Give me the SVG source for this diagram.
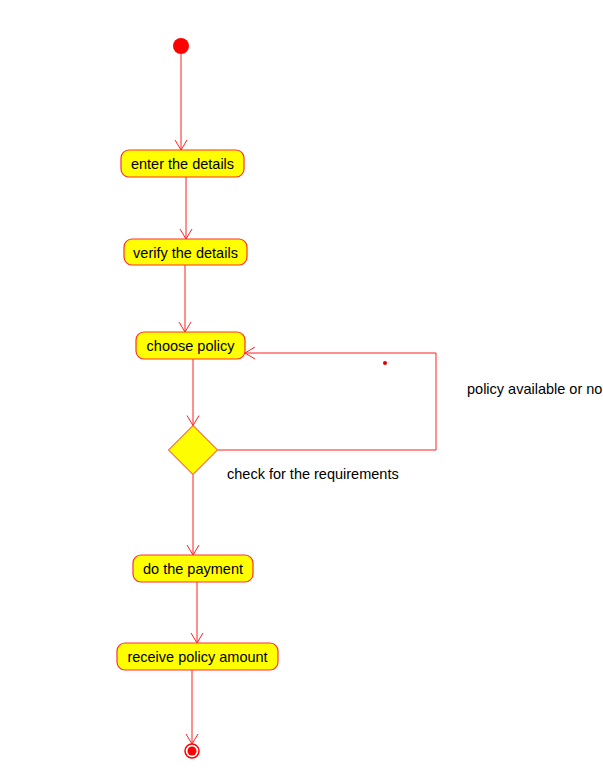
<svg xmlns="http://www.w3.org/2000/svg" width="603" height="783" viewBox="0 0 603 783">
<defs>
<marker id="arr" markerUnits="userSpaceOnUse" markerWidth="14" markerHeight="14" viewBox="-12 -7 14 14" refX="0" refY="0" orient="auto">
<path d="M-10,-6 L0,0 L-10,6" fill="none" stroke="#ff2020" stroke-width="1"/>
</marker>
<style>
.act{fill:#ffff00;stroke:#ff3030;stroke-width:1.2}
.lbl{font-family:"Liberation Sans",Arial,sans-serif;font-size:14.5px;fill:#000}
.ctr{text-anchor:middle}
.edge{fill:none;stroke:#ff2020;stroke-width:1}
</style>
</defs>
<rect width="603" height="783" fill="#fff"/>
<g id="connectors">
<line class="edge" x1="181" y1="54" x2="181" y2="150" marker-end="url(#arr)"/>
<line class="edge" x1="186" y1="177" x2="186" y2="239" marker-end="url(#arr)"/>
<line class="edge" x1="185" y1="265" x2="185" y2="332" marker-end="url(#arr)"/>
<line class="edge" x1="193" y1="359" x2="193" y2="425.5" marker-end="url(#arr)"/>
<polyline class="edge" points="218,450 436,450 436,353 245,353" marker-end="url(#arr)"/>
<line class="edge" x1="193" y1="474.5" x2="193" y2="555" marker-end="url(#arr)"/>
<line class="edge" x1="197" y1="582" x2="197" y2="643" marker-end="url(#arr)"/>
<line class="edge" x1="192" y1="670" x2="192" y2="744" marker-end="url(#arr)"/>
<circle cx="385" cy="363" r="2" fill="#e00000"/>
<text class="lbl" x="467" y="394">policy available or no</text>
<text class="lbl" x="227" y="479">check for the requirements</text>
</g>
<g id="start">
<circle cx="181" cy="46" r="8" fill="#ff0000"/>
</g>
<g id="enter">
<rect class="act" x="121" y="150" width="123" height="27" rx="8"/>
<text class="lbl ctr" x="182.5" y="169">enter the details</text>
</g>
<g id="verify">
<rect class="act" x="124" y="239" width="123" height="26" rx="8"/>
<text class="lbl ctr" x="185.5" y="258">verify the details</text>
</g>
<g id="choose">
<rect class="act" x="136" y="332" width="109" height="27" rx="8"/>
<text class="lbl ctr" x="190.5" y="351">choose policy</text>
</g>
<g id="decision">
<polygon points="193,425.5 217.5,450 193,474.5 168.5,450" fill="#ffff00" stroke="#ff2020" stroke-width="1"/>
</g>
<g id="payment">
<rect class="act" x="133" y="555" width="120" height="27" rx="8"/>
<text class="lbl ctr" x="193" y="574">do the payment</text>
</g>
<g id="receive">
<rect class="act" x="117" y="643" width="161" height="27" rx="8"/>
<text class="lbl ctr" x="197.5" y="662">receive policy amount</text>
</g>
<g id="end">
<circle cx="192" cy="751" r="7" fill="#fff" stroke="#ff0000" stroke-width="1.5"/>
<circle cx="192" cy="751" r="4.5" fill="#ff0000"/>
</g>
</svg>
